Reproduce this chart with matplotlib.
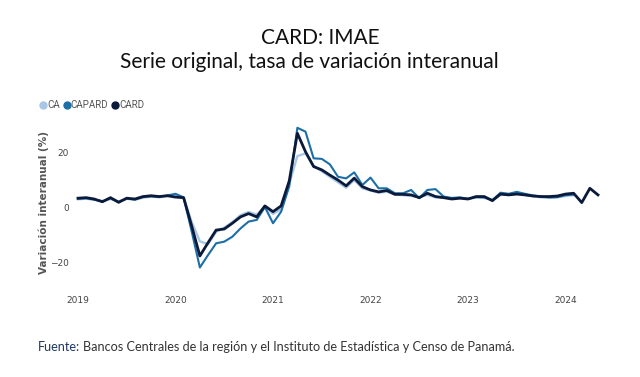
import matplotlib
matplotlib.use("Agg")
import matplotlib.pyplot as plt
from matplotlib.lines import Line2D
import numpy as np

# ---- data (monthly, starting Jan 2019) ----
start_year = 2019
card = [3.2, 3.4, 2.9, 1.9, 3.4, 1.7, 3.2, 2.9, 3.8, 4.1, 3.8, 4.1,
        3.6, 3.4, -7.0, -17.8, -13.0, -8.4, -8.0, -5.9, -3.6, -2.4, -3.6, 0.4,
        -1.7, 0.4, 9.5, 26.8, 20.1, 14.7, 13.5, 11.6, 9.8, 7.7, 10.5, 7.4,
        6.2, 5.5, 6.0, 4.6, 4.6, 4.4, 3.4, 5.0, 3.8, 3.4, 2.9, 3.2,
        2.9, 3.8, 3.8, 2.3, 4.7, 4.4, 4.7, 4.4, 4.0, 3.8, 3.8, 4.0,
        4.7, 5.0, 1.6, 6.8, 4.4]
capard = [3.0, 3.2, 2.7, 2.0, 3.2, 1.8, 3.1, 2.7, 3.6, 3.9, 3.7, 4.2,
          4.8, 3.5, -9.0, -22.0, -17.5, -13.2, -12.6, -10.8, -7.8, -5.3, -4.7, 0.0,
          -5.9, -1.7, 7.5, 28.8, 27.4, 17.7, 17.5, 15.5, 11.0, 10.4, 12.6, 8.0,
          10.7, 6.8, 6.8, 5.0, 5.0, 6.2, 3.2, 6.2, 6.5, 3.8, 3.3, 3.5,
          3.0, 3.6, 3.5, 2.5, 5.2, 4.8, 5.5, 4.8, 4.2, 3.8, 3.5, 3.6,
          4.3, 4.5]
ca = [2.8, 3.0, 2.6, 2.2, 2.9, 2.0, 3.0, 2.6, 3.4, 3.8, 3.5, 4.0,
      4.3, 3.2, -5.5, -12.5, -13.5, -9.0, -7.5, -5.5, -3.0, -1.8, -2.8, 0.2,
      -2.5, -0.8, 8.5, 18.5, 19.5, 15.0, 13.0, 11.0, 9.0, 7.0, 9.8, 6.8,
      6.0, 5.2, 5.6, 4.6, 4.3, 4.0, 3.6, 4.4, 3.5, 3.4, 3.0, 3.3,
      3.0, 3.4, 3.3, 2.6, 4.4, 4.5, 5.0, 4.4, 3.9, 3.5, 3.3, 3.5,
      4.0, 4.3]
series_names = ["CA", "CAPARD", "CARD"]
year_ticks = [2019, 2020, 2021, 2022, 2023, 2024]
y_ticks = [-20, 0, 20]

colors = {"CA": "#a8c6e6", "CAPARD": "#1c6ea6", "CARD": "#0b1a3a"}


def months_to_x(n):
    return start_year + np.arange(n) / 12.0


W, H = 640, 377
fig = plt.figure(figsize=(W / 100, H / 100), dpi=100)
fig.patch.set_facecolor("white")

L, R, T, B = 72, 610, 115, 290
ax = fig.add_axes([L / W, 1 - B / H, (R - L) / W, (B - T) / H])

px_per_year = 97.5
x0px = 78
ax.set_xlim(start_year + (L - x0px) / px_per_year, start_year + (R - x0px) / px_per_year)
zero_px = 207
px_per_unit = 2.75
ax.set_ylim((zero_px - B) / px_per_unit, (zero_px - T) / px_per_unit)

ax.plot(months_to_x(len(ca)), ca, color=colors["CA"], lw=1.7, solid_joinstyle="round")
ax.plot(months_to_x(len(capard)), capard, color=colors["CAPARD"], lw=1.5, solid_joinstyle="round")
ax.plot(months_to_x(len(card)), card, color=colors["CARD"], lw=2.0, solid_joinstyle="round")

for s in ax.spines.values():
    s.set_visible(False)
ax.set_xticks(year_ticks)
ax.set_xticklabels([str(y) for y in year_ticks])
ax.set_yticks(y_ticks)
ax.tick_params(axis="both", length=0, labelsize=6.5, labelcolor="#444444")
ax.tick_params(axis="x", pad=4)
ax.tick_params(axis="y", pad=2)
ax.set_ylabel("Variación interanual (%)", fontsize=7.5, color="#555555",
              fontweight="bold", labelpad=1)

handles = [Line2D([0], [0], marker="o", ls="none", markersize=5,
                  markerfacecolor=colors[n], markeredgecolor=colors[n]) for n in series_names]
fig.legend(handles, series_names, loc="center left",
           bbox_to_anchor=(41 / W, 1 - 105 / H), ncol=3, frameon=False,
           prop={"family": "Roboto", "size": 7},
           handlelength=0.5, handletextpad=0.15,
           columnspacing=0.45, borderaxespad=0, borderpad=0,
           labelcolor="#555555")

fig.text(320 / W, 1 - 38 / H, "CARD: IMAE", ha="center", va="center",
         fontsize=15, family="Lato", color="#111111")
fig.text(309 / W, 1 - 62 / H, "Serie original, tasa de variación interanual", ha="center",
         va="center", fontsize=15, family="Lato", color="#111111")

t1 = fig.text(38 / W, 1 - 347 / H, "Fuente:", ha="left", va="center",
              fontsize=9.1, family="Lato", color="#1f3864")
fig.canvas.draw()
bb = t1.get_window_extent()
fig.text(bb.x1 / W + 3 / W, 1 - 347 / H,
         "Bancos Centrales de la región y el Instituto de Estadística y Censo de Panamá.",
         ha="left", va="center", fontsize=9.1, family="Lato", color="#333333")

fig.savefig("out.png", dpi=100)
